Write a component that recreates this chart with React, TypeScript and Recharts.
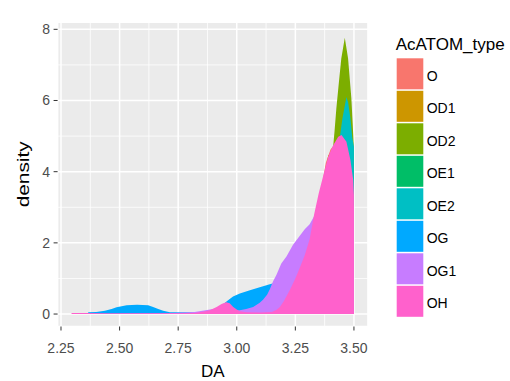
import React from 'react';
import { ComposedChart, Area, XAxis, YAxis, CartesianGrid } from 'recharts';

type Pt = [number, number];

const TYPES = ['O', 'OD1', 'OD2', 'OE1', 'OE2', 'OG', 'OG1', 'OH'];
const COLORS = ['#F8766D', '#CD9600', '#7CAE00', '#00BE67', '#00BFC4', '#00A9FF', '#C77CFF', '#FF61CC'];

const X_TICKS = [2.25, 2.5, 2.75, 3.0, 3.25, 3.5];
const X_MINOR = [2.375, 2.625, 2.875, 3.125, 3.375];
const Y_TICKS = [0, 2, 4, 6, 8];
const Y_MINOR = [1, 3, 5, 7];
const X_DOMAIN: [number, number] = [2.2355, 3.56];
const Y_DOMAIN: [number, number] = [-0.35, 8.2];

// density curves (DA, density) per AcATOM_type
const O: Pt[] = [[2.9, 0.01], [3.0, 0.03], [3.1, 0.06], [3.2, 0.2], [3.25, 0.6], [3.3, 1.4], [3.35, 3.1], [3.38, 4.25], [3.4, 4.62], [3.42, 4.8], [3.44, 4.6], [3.46, 4.2], [3.48, 3.6], [3.5, 3.0]];
const OD1: Pt[] = [[2.95, 0.01], [3.05, 0.04], [3.15, 0.1], [3.25, 0.5], [3.3, 1.1], [3.35, 2.9], [3.39, 4.45], [3.42, 4.7], [3.45, 4.5], [3.48, 3.9], [3.5, 3.2]];
const OD2: Pt[] = [[3.0, 0.02], [3.1, 0.1], [3.2, 0.3], [3.3, 1.2], [3.35, 2.3], [3.38, 3.3], [3.4, 4.2], [3.408, 4.47], [3.417, 5.12], [3.425, 5.78], [3.436, 6.53], [3.446, 7.18], [3.461, 7.76], [3.475, 7.18], [3.482, 6.62], [3.489, 6.06], [3.495, 5.3], [3.5, 4.6]];
const OE1: Pt[] = [[3.0, 0.05], [3.1, 0.2], [3.2, 0.5], [3.3, 1.2], [3.35, 2.4], [3.4, 3.8], [3.44, 4.6], [3.47, 4.5], [3.5, 3.6]];
const OE2: Pt[] = [[2.9, 0.01], [3.0, 0.03], [3.1, 0.08], [3.2, 0.3], [3.3, 1.0], [3.35, 2.0], [3.4, 3.5], [3.42, 4.3], [3.439, 4.94], [3.451, 5.5], [3.468, 6.1], [3.475, 5.95], [3.485, 5.5], [3.493, 4.95], [3.5, 4.7]];
const OG: Pt[] = [[2.366, 0.05], [2.4, 0.06], [2.437, 0.09], [2.466, 0.14], [2.487, 0.19], [2.509, 0.22], [2.53, 0.25], [2.575, 0.26], [2.622, 0.25], [2.643, 0.2], [2.665, 0.14], [2.686, 0.09], [2.715, 0.05], [2.76, 0.05], [2.8, 0.05], [2.84, 0.04], [2.9, 0.12], [2.94, 0.27], [2.963, 0.39], [2.984, 0.49], [3.013, 0.58], [3.056, 0.67], [3.098, 0.75], [3.141, 0.84], [3.16, 0.87], [3.2, 0.9], [3.25, 1.0], [3.3, 1.3], [3.35, 1.9], [3.4, 2.6], [3.45, 2.9], [3.5, 2.1]];
const OG1: Pt[] = [[2.5, 0.01], [2.7, 0.02], [2.78, 0.04], [2.82, 0.06], [2.86, 0.1], [2.886, 0.13], [2.92, 0.16], [2.95, 0.15], [2.98, 0.12], [3.0, 0.1], [3.013, 0.11], [3.04, 0.14], [3.07, 0.2], [3.098, 0.32], [3.112, 0.4], [3.13, 0.55], [3.141, 0.7], [3.155, 0.92], [3.169, 1.1], [3.19, 1.42], [3.212, 1.62], [3.24, 1.95], [3.269, 2.2], [3.29, 2.38], [3.311, 2.52], [3.33, 2.75], [3.35, 2.9], [3.4, 3.3], [3.45, 3.6], [3.48, 3.4], [3.5, 3.0]];
const OH: Pt[] = [[2.295, 0.03], [2.35, 0.03], [2.45, 0.02], [2.6, 0.02], [2.75, 0.02], [2.82, 0.03], [2.86, 0.07], [2.885, 0.11], [2.914, 0.2], [2.935, 0.28], [2.955, 0.33], [2.97, 0.3], [2.985, 0.2], [3.0, 0.13], [3.013, 0.08], [3.04, 0.05], [3.1, 0.04], [3.15, 0.06], [3.17, 0.12], [3.184, 0.2], [3.2, 0.35], [3.226, 0.67], [3.25, 1.0], [3.269, 1.3], [3.29, 1.65], [3.311, 2.1], [3.33, 2.8], [3.35, 3.4], [3.375, 4.04], [3.39, 4.42], [3.412, 4.75], [3.433, 4.98], [3.447, 5.03], [3.468, 4.84], [3.485, 4.33], [3.497, 3.76], [3.5, 3.34]];

const SERIES: Pt[][] = [O, OD1, OD2, OE1, OE2, OG, OG1, OH];

const toRows = (pts: Pt[]) => pts.map(([x, y]) => ({ x, y }));

const TICK_STYLE = { fontSize: 14, fill: '#4D4D4D', fontFamily: 'Liberation Sans, Arial, sans-serif' };

const KEY_TOP = 58.3;
const KEY_STEP = 32.5;

export default function App() {
  return (
    <div style={{ position: 'absolute', left: 0, top: 0, width: 510, height: 381, background: '#fff' }}>
      <ComposedChart width={510} height={381} margin={{ top: 22.2, right: 142, bottom: 0, left: 0 }}>
        <CartesianGrid fill="#EBEBEB" stroke="#FFFFFF" strokeWidth={1.5} />
        <CartesianGrid xAxisId="minor" yAxisId="minor" fill="none" stroke="#FFFFFF" strokeWidth={0.8} />
        <XAxis
          type="number"
          dataKey="x"
          domain={X_DOMAIN}
          ticks={X_TICKS}
          allowDataOverflow
          interval={0}
          tickFormatter={(v: number) => v.toFixed(2)}
          axisLine={false}
          tickLine={{ stroke: '#333333', strokeWidth: 1 }}
          tickSize={4}
          tickMargin={13}
          height={54.5}
          tick={TICK_STYLE}
          label={{
            content: () => (
              <text x={212.8} y={377} textAnchor="middle" fontSize={17} fill="#000" fontFamily="Liberation Sans, Arial, sans-serif">DA</text>
            ),
          }}
        />
        <YAxis
          type="number"
          domain={Y_DOMAIN}
          ticks={Y_TICKS}
          allowDataOverflow
          interval={0}
          axisLine={false}
          tickLine={{ stroke: '#333333', strokeWidth: 1 }}
          tickSize={4}
          tickMargin={3.6}
          width={57.6}
          tick={TICK_STYLE}
          label={{
            content: () => (
              <text
                x={29}
                y={174.3}
                transform="rotate(-90 29 174.3)"
                textAnchor="middle"
                fontSize={17}
                textLength={66}
                lengthAdjust="spacingAndGlyphs"
                fill="#000"
                fontFamily="Liberation Sans, Arial, sans-serif"
              >
                density
              </text>
            ),
          }}
        />
        <XAxis xAxisId="minor" type="number" dataKey="x" domain={X_DOMAIN} ticks={X_MINOR} allowDataOverflow hide />
        <YAxis yAxisId="minor" type="number" domain={Y_DOMAIN} ticks={Y_MINOR} allowDataOverflow hide />
        {SERIES.map((pts, i) => (
          <Area
            key={TYPES[i]}
            name={TYPES[i]}
            data={toRows(pts)}
            dataKey="y"
            type="linear"
            stroke="none"
            fill={COLORS[i]}
            fillOpacity={1}
            isAnimationActive={false}
            dot={false}
            activeDot={false}
          />
        ))}
      </ComposedChart>
      <svg width={510} height={381} style={{ position: 'absolute', left: 0, top: 0, pointerEvents: 'none' }}>
        <text x={395.7} y={50} fontSize={17} fill="#000" fontFamily="Liberation Sans, Arial, sans-serif">AcATOM_type</text>
        {TYPES.map((t, i) => {
          const top = KEY_TOP + i * KEY_STEP;
          return (
            <g key={t}>
              <rect x={396.7} y={top} width={26.6} height={31} fill={COLORS[i]} />
              <text x={426.7} y={top + 15.5 + 7} fontSize={14} fill="#000" fontFamily="Liberation Sans, Arial, sans-serif">{t}</text>
            </g>
          );
        })}
      </svg>
    </div>
  );
}
